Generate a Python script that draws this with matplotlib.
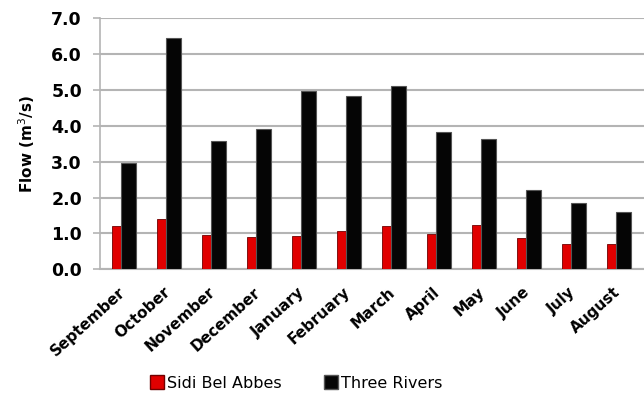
import numpy as np
import matplotlib.pyplot as plt
from matplotlib.patches import Patch

# 月份与两个站点的平均流量 (m3/s)
months = ['September', 'October', 'November', 'December', 'January', 'February',
          'March', 'April', 'May', 'June', 'July', 'August']
sidi_bel_abbes = [1.21, 1.39, 0.96, 0.89, 0.93, 1.06, 1.21, 0.98, 1.25, 0.86, 0.70, 0.70]
three_rivers = [2.97, 6.44, 3.58, 3.90, 4.97, 4.83, 5.11, 3.84, 3.64, 2.20, 1.86, 1.59]
y_ticks = [0.0, 1.0, 2.0, 3.0, 4.0, 5.0, 6.0, 7.0]

plt.rcParams['font.family'] = 'DejaVu Sans'

fig = plt.figure(figsize=(6.44, 3.99), dpi=100)
ax = fig.add_axes([0.1553, 0.325, 0.8447, 0.629])

x = np.arange(len(months))
ax.bar(x - 0.14, sidi_bel_abbes, width=0.2, color='#e00000',
       edgecolor='#700000', linewidth=0.6, zorder=3)
ax.bar(x + 0.12, three_rivers, width=0.32, color='#050505',
       edgecolor='#555555', linewidth=0.8, zorder=3)

# 网格线与坐标轴
ax.set_ylim(0, 7)
ax.set_xlim(-0.51, 11.58)
ax.set_yticks(y_ticks)
ax.set_yticklabels([f'{v:.1f}' for v in y_ticks], fontsize=12.5, fontweight='bold')
ax.yaxis.grid(True, color='#b4b4b4', linewidth=1.5, zorder=0)
ax.tick_params(axis='y', length=5, width=1.2, color='#b4b4b4', pad=8)
for s in ['top', 'right']:
    ax.spines[s].set_visible(False)
ax.spines['left'].set_color('#b4b4b4')
ax.spines['left'].set_linewidth(1.2)
ax.spines['bottom'].set_color('#b4b4b4')
ax.spines['bottom'].set_linewidth(1.5)

ax.set_xticks(x)
ax.set_xticklabels(months, rotation=42, ha='right', va='center',
                   rotation_mode='anchor', fontsize=11, fontweight='bold')
ax.tick_params(axis='x', length=0, pad=15)

ax.set_ylabel('Flow (m$^3$/s)', fontsize=11, fontweight='bold', labelpad=10)

# 图例
handles = [Patch(facecolor='#e00000', edgecolor='#700000', label='Sidi Bel Abbes'),
           Patch(facecolor='#050505', edgecolor='#555555', label='Three Rivers')]
fig.legend(handles=handles, loc='center', bbox_to_anchor=(0.46, 0.04), ncol=2,
           frameon=False, fontsize=11.5, handlelength=0.9, handleheight=0.9,
           handletextpad=0.2, columnspacing=2.6)

fig.savefig('out.png', dpi=100)
